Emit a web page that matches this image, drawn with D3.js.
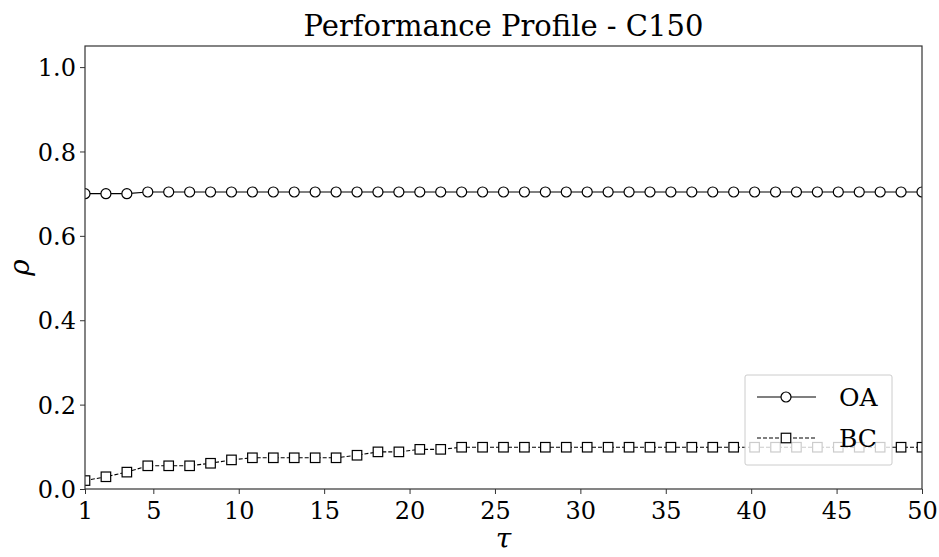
<!DOCTYPE html>
<html>
<head>
<meta charset="utf-8">
<script src="https://cdn.jsdelivr.net/npm/d3@7"></script>
<style>
  html, body { margin: 0; padding: 0; background: #fff; }
  svg text { font-family: "DejaVu Serif", serif; fill: #000; }
</style>
</head>
<body>
<svg id="chart" width="939" height="557"></svg>
<script>
// Performance ratio grid (tau) shared by both solvers
const tau = [1, 2.225, 3.45, 4.675, 5.9, 7.125, 8.35, 9.575, 10.8, 12.025, 13.25,
  14.475, 15.7, 16.925, 18.15, 19.375, 20.6, 21.825, 23.05, 24.275, 25.5,
  26.725, 27.95, 29.175, 30.4, 31.625, 32.85, 34.075, 35.3, 36.525, 37.75,
  38.975, 40.2, 41.425, 42.65, 43.875, 45.1, 46.325, 47.55, 48.775, 50];

// Fraction of problems solved within factor tau of the best
const rhoOA = [0.700, 0.700, 0.700, 0.704, 0.704, 0.704, 0.704, 0.704, 0.704, 0.704, 0.704,
  0.704, 0.704, 0.704, 0.704, 0.704, 0.704, 0.704, 0.704, 0.704, 0.704,
  0.704, 0.704, 0.704, 0.704, 0.704, 0.704, 0.704, 0.704, 0.704, 0.704,
  0.704, 0.704, 0.704, 0.704, 0.704, 0.704, 0.704, 0.704, 0.704, 0.704];
const rhoBC = [0.020, 0.029, 0.040, 0.055, 0.055, 0.055, 0.061, 0.069, 0.074, 0.074, 0.074,
  0.074, 0.074, 0.080, 0.088, 0.088, 0.094, 0.094, 0.099, 0.099, 0.099,
  0.099, 0.099, 0.099, 0.099, 0.099, 0.099, 0.099, 0.099, 0.099, 0.099,
  0.099, 0.099, 0.099, 0.099, 0.099, 0.099, 0.099, 0.099, 0.099, 0.099];

const xTicks = [1, 5, 10, 15, 20, 25, 30, 35, 40, 45, 50];
const yTicks = [0.0, 0.2, 0.4, 0.6, 0.8, 1.0];
const seriesNames = ["OA", "BC"];
const titleText = "Performance Profile - C150";

const FONT = '"DejaVu Serif", serif';
const margin = { left: 85, right: 17, top: 46, bottom: 68 };
const W = 939, H = 557;
const pw = W - margin.left - margin.right;
const ph = H - margin.top - margin.bottom;

const svg = d3.select("#chart");
const x = d3.scaleLinear().domain([1, 50]).range([0, pw]);
const y = d3.scaleLinear().domain([0, 1.05]).range([ph, 0]);

svg.append("defs").append("clipPath").attr("id", "plotclip")
  .append("rect").attr("width", pw).attr("height", ph);

const g = svg.append("g").attr("transform", `translate(${margin.left},${margin.top})`);

// Series
const plot = g.append("g").attr("clip-path", "url(#plotclip)");
const line = d3.line().x((d, i) => x(tau[i])).y(d => y(d));

plot.append("path").datum(rhoOA).attr("d", line)
  .attr("fill", "none").attr("stroke", "#000").attr("stroke-width", 1.1);
plot.append("path").datum(rhoBC).attr("d", line)
  .attr("fill", "none").attr("stroke", "#000").attr("stroke-width", 1.1)
  .attr("stroke-dasharray", "4,2");

plot.selectAll("circle.oa").data(rhoOA).enter().append("circle")
  .attr("class", "oa")
  .attr("cx", (d, i) => x(tau[i])).attr("cy", d => y(d)).attr("r", 5)
  .attr("fill", "#fff").attr("stroke", "#000").attr("stroke-width", 1.2);

const sq = 9.5;
plot.selectAll("rect.bc").data(rhoBC).enter().append("rect")
  .attr("class", "bc")
  .attr("x", (d, i) => x(tau[i]) - sq / 2).attr("y", d => y(d) - sq / 2)
  .attr("width", sq).attr("height", sq)
  .attr("fill", "#fff").attr("stroke", "#000").attr("stroke-width", 1.2);

// Axes
const xAxis = g.append("g").attr("transform", `translate(0,${ph})`)
  .call(d3.axisBottom(x).tickValues(xTicks).tickSize(5).tickPadding(7).tickFormat(d3.format("d")));
const yAxis = g.append("g")
  .call(d3.axisLeft(y).tickValues(yTicks).tickSize(5).tickPadding(4).tickFormat(d3.format(".1f")));
[xAxis, yAxis].forEach(a => {
  a.select(".domain").remove();
  a.selectAll("line").attr("stroke", "#333").attr("stroke-width", 1);
  a.selectAll("text").style("font-size", "24px").style("font-family", FONT);
});
xAxis.selectAll("text").attr("dy", "0.74em");
yAxis.selectAll("text").attr("dy", "0.36em");

// Frame
g.append("rect").attr("width", pw).attr("height", ph)
  .attr("fill", "none").attr("stroke", "#333").attr("stroke-width", 1.2);

// Title and axis labels
svg.append("text").attr("x", margin.left + pw / 2).attr("y", 36)
  .attr("text-anchor", "middle").style("font-size", "29px").text(titleText);
svg.append("text").attr("x", margin.left + pw / 2).attr("y", 548)
  .attr("text-anchor", "middle").style("font-size", "28px").style("font-style", "italic").text("τ");
svg.append("text").attr("transform", `translate(29,${margin.top + ph / 2}) rotate(-90)`)
  .attr("text-anchor", "middle").style("font-size", "28px").style("font-style", "italic").text("ρ");

// Legend
const lg = g.append("g").attr("transform", `translate(${745 - margin.left},${375 - margin.top})`);
lg.append("rect").attr("width", 147).attr("height", 90).attr("rx", 2)
  .attr("fill", "#fff").attr("fill-opacity", 0.8)
  .attr("stroke", "#ccc").attr("stroke-width", 1);
const rows = [
  { name: seriesNames[0], dy: 22, dash: null, marker: "circle" },
  { name: seriesNames[1], dy: 63, dash: "4,2", marker: "square" }
];
rows.forEach(r => {
  lg.append("line").attr("x1", 12).attr("x2", 71).attr("y1", r.dy).attr("y2", r.dy)
    .attr("stroke", "#000").attr("stroke-width", 1.1)
    .attr("stroke-dasharray", r.dash);
  if (r.marker === "circle") {
    lg.append("circle").attr("cx", 41).attr("cy", r.dy).attr("r", 5)
      .attr("fill", "#fff").attr("stroke", "#000").attr("stroke-width", 1.2);
  } else {
    lg.append("rect").attr("x", 41 - sq / 2).attr("y", r.dy - sq / 2)
      .attr("width", sq).attr("height", sq)
      .attr("fill", "#fff").attr("stroke", "#000").attr("stroke-width", 1.2);
  }
  lg.append("text").attr("x", 94).attr("y", r.dy).attr("dy", "0.36em")
    .style("font-size", "25px").text(r.name);
});
</script>
</body>
</html>
